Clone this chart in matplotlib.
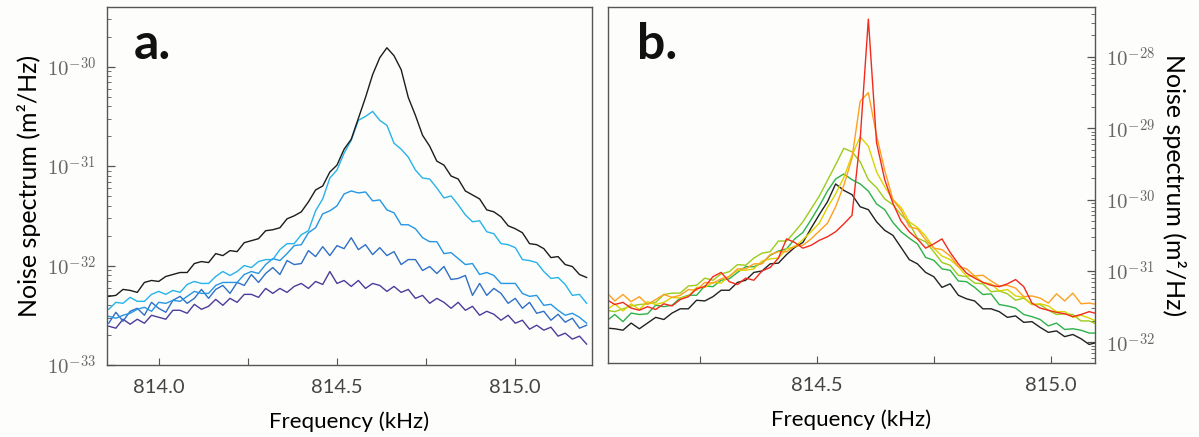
import numpy as np
import matplotlib
matplotlib.use("Agg")
import matplotlib.pyplot as plt
from matplotlib import ticker

plt.rcParams['mathtext.fontset'] = 'cm'
plt.rcParams['font.family'] = ['Lato', 'DejaVu Sans']

# ---- panel a: frequency grid (kHz) and log10 of noise spectrum (m^2/Hz)
freq_a = np.arange(813.86, 815.201, 0.02)

black_a = [-32.31, -32.30, -32.24, -32.25, -32.27, -32.17, -32.15, -32.16, -32.11, -32.09,
           -32.07, -32.07, -31.98, -31.96, -31.97, -31.88, -31.90, -31.85, -31.86, -31.77,
           -31.75, -31.73, -31.65, -31.64, -31.62, -31.53, -31.50, -31.46, -31.36, -31.24,
           -31.20, -31.06, -30.99, -30.83, -30.73, -30.52, -30.31, -30.08, -29.91, -29.81,
           -29.89, -30.03, -30.31, -30.49, -30.69, -30.80, -30.95, -30.99, -31.10, -31.13,
           -31.25, -31.29, -31.33, -31.44, -31.46, -31.51, -31.60, -31.63, -31.67, -31.78,
           -31.79, -31.83, -31.92, -31.91, -31.99, -32.01, -32.09, -32.12]

lightblue_a = [-32.44, -32.37, -32.38, -32.32, -32.36, -32.36, -32.29, -32.26, -32.29, -32.25,
               -32.27, -32.19, -32.16, -32.18, -32.18, -32.11, -32.06, -32.10, -32.06, -32.00,
               -32.02, -31.96, -31.94, -31.94, -31.84, -31.78, -31.78, -31.69, -31.65, -31.45,
               -31.33, -31.12, -31.04, -30.87, -30.74, -30.54, -30.50, -30.45, -30.54, -30.59,
               -30.77, -30.83, -30.91, -31.04, -31.12, -31.13, -31.22, -31.32, -31.30, -31.39,
               -31.49, -31.56, -31.55, -31.66, -31.68, -31.78, -31.79, -31.82, -31.94, -31.95,
               -31.97, -32.06, -32.13, -32.12, -32.19, -32.30, -32.29, -32.38]

midblue_a = [-32.51, -32.53, -32.50, -32.48, -32.44, -32.42, -32.46, -32.37, -32.38, -32.35,
             -32.36, -32.31, -32.26, -32.28, -32.28, -32.20, -32.17, -32.17, -32.17, -32.09,
             -32.06, -32.08, -31.99, -31.93, -31.95, -31.88, -31.80, -31.79, -31.67, -31.62,
             -31.48, -31.45, -31.40, -31.28, -31.25, -31.27, -31.26, -31.35, -31.34, -31.44,
             -31.47, -31.59, -31.59, -31.63, -31.72, -31.76, -31.76, -31.88, -31.87, -31.93,
             -31.99, -31.98, -32.09, -32.07, -32.10, -32.18, -32.18, -32.18, -32.28, -32.31,
             -32.30, -32.40, -32.39, -32.45, -32.50, -32.48, -32.52, -32.58]

darkblue_a = [-32.58, -32.47, -32.56, -32.46, -32.43, -32.50, -32.37, -32.43, -32.47, -32.35,
              -32.31, -32.38, -32.33, -32.24, -32.33, -32.24, -32.20, -32.28, -32.17, -32.20,
              -32.09, -32.17, -32.08, -32.02, -32.09, -31.95, -31.99, -31.98, -31.85, -31.91,
              -31.81, -31.90, -31.80, -31.83, -31.72, -31.84, -31.79, -31.89, -31.82, -31.90,
              -31.86, -31.99, -31.94, -31.94, -32.05, -32.01, -32.08, -32.01, -32.14, -32.13,
              -32.10, -32.30, -32.18, -32.30, -32.23, -32.28, -32.38, -32.33, -32.43, -32.37,
              -32.48, -32.46, -32.55, -32.49, -32.57, -32.53, -32.63, -32.60]

purple_a = [-32.61, -32.63, -32.54, -32.59, -32.54, -32.58, -32.50, -32.52, -32.54, -32.45,
            -32.45, -32.48, -32.39, -32.44, -32.41, -32.34, -32.40, -32.33, -32.37, -32.29,
            -32.29, -32.32, -32.23, -32.28, -32.23, -32.27, -32.21, -32.18, -32.23, -32.16,
            -32.19, -32.06, -32.18, -32.15, -32.21, -32.15, -32.23, -32.18, -32.20, -32.26,
            -32.21, -32.27, -32.24, -32.33, -32.30, -32.38, -32.33, -32.37, -32.43, -32.37,
            -32.45, -32.41, -32.50, -32.46, -32.49, -32.55, -32.50, -32.58, -32.55, -32.64,
            -32.60, -32.65, -32.62, -32.71, -32.68, -32.74, -32.71, -32.79]

# ---- panel b
freq_b = np.arange(814.05, 815.1001, 0.0175)

red_b = [-31.40, -31.47, -31.44, -31.52, -31.55, -31.50, -31.54, -31.46, -31.49, -31.40,
         -31.36, -31.25, -31.22, -31.08, -31.02, -31.15, -31.19, -31.10, -31.13, -31.00,
         -30.95, -30.82, -30.55, -30.60, -30.68, -30.64, -30.57, -30.52, -30.45, -30.34,
         -30.22, -29.15, -27.47, -29.20, -29.72, -30.05, -30.30, -30.45, -30.55, -30.68,
         -30.62, -30.55, -30.74, -30.90, -31.03, -31.10, -31.16, -31.20, -31.22, -31.18,
         -31.12, -31.22, -31.45, -31.52, -31.55, -31.58, -31.60, -31.64, -31.61, -31.57,
         -31.60]

orange_b = [-31.30, -31.42, -31.33, -31.43, -31.36, -31.47, -31.40, -31.33, -31.37, -31.34,
            -31.26, -31.27, -31.16, -31.17, -31.11, -31.08, -30.97, -30.97, -30.90, -30.90,
            -30.77, -30.73, -30.73, -30.65, -30.64, -30.55, -30.44, -30.33, -30.10, -29.80,
            -29.42, -28.62, -28.50, -29.10, -29.59, -30.00, -30.15, -30.38, -30.41, -30.56,
            -30.68, -30.70, -30.79, -30.94, -30.97, -31.07, -31.06, -31.14, -31.21, -31.20,
            -31.24, -31.36, -31.35, -31.38, -31.45, -31.32, -31.42, -31.31, -31.46, -31.45,
            -31.47]

yellow_b = [-31.55, -31.46, -31.56, -31.46, -31.54, -31.43, -31.47, -31.44, -31.37, -31.38,
            -31.35, -31.23, -31.23, -31.16, -31.17, -31.07, -30.99, -30.99, -30.97, -30.86,
            -30.83, -30.82, -30.69, -30.66, -30.56, -30.45, -30.33, -30.11, -29.92, -29.69,
            -29.38, -29.12, -29.25, -29.61, -29.82, -30.00, -30.11, -30.31, -30.39, -30.51,
            -30.68, -30.79, -30.84, -30.94, -31.07, -31.07, -31.16, -31.18, -31.28, -31.26,
            -31.35, -31.37, -31.47, -31.46, -31.49, -31.57, -31.57, -31.65, -31.62, -31.66,
            -31.71]

ygreen_b = [-31.55, -31.57, -31.53, -31.49, -31.47, -31.46, -31.44, -31.33, -31.31, -31.31,
            -31.21, -31.20, -31.10, -31.13, -31.04, -31.01, -30.91, -30.92, -30.82, -30.75,
            -30.73, -30.58, -30.58, -30.45, -30.31, -30.13, -29.95, -29.73, -29.51, -29.28,
            -29.33, -29.47, -29.72, -29.83, -29.99, -30.07, -30.21, -30.33, -30.54, -30.59,
            -30.73, -30.88, -30.92, -31.06, -31.08, -31.17, -31.18, -31.29, -31.28, -31.32,
            -31.41, -31.38, -31.47, -31.47, -31.55, -31.61, -31.60, -31.61, -31.70, -31.70,
            -31.75]

green_b = [-31.70, -31.61, -31.71, -31.59, -31.61, -31.60, -31.48, -31.50, -31.48, -31.38,
           -31.34, -31.34, -31.21, -31.22, -31.13, -31.11, -31.02, -30.94, -30.94, -30.89,
           -30.78, -30.72, -30.69, -30.55, -30.46, -30.28, -30.09, -29.88, -29.71, -29.64,
           -29.72, -29.78, -29.88, -30.06, -30.14, -30.32, -30.45, -30.54, -30.62, -30.81,
           -30.85, -30.97, -30.99, -31.14, -31.15, -31.23, -31.33, -31.32, -31.47, -31.49,
           -31.52, -31.61, -31.64, -31.68, -31.77, -31.73, -31.82, -31.81, -31.83, -31.87,
           -31.87]

black_b = [-31.80, -31.81, -31.83, -31.73, -31.81, -31.73, -31.65, -31.68, -31.59, -31.53,
           -31.53, -31.41, -31.42, -31.36, -31.27, -31.27, -31.16, -31.13, -31.02, -31.00,
           -30.90, -30.89, -30.77, -30.67, -30.60, -30.40, -30.21, -30.03, -29.78, -29.87,
           -29.93, -30.10, -30.14, -30.31, -30.43, -30.50, -30.67, -30.84, -30.90, -31.02,
           -31.08, -31.23, -31.18, -31.34, -31.39, -31.42, -31.53, -31.53, -31.57, -31.65,
           -31.63, -31.72, -31.71, -31.79, -31.86, -31.84, -31.92, -31.89, -31.95, -32.03,
           -32.00]

decades_a = [1e-33, 1e-32, 1e-31, 1e-30]
decades_b = [1e-32, 1e-31, 1e-30, 1e-29, 1e-28]

curves_a = [(purple_a, '#4b3c9b'), (darkblue_a, '#2f6fc6'), (midblue_a, '#2496e4'),
            (lightblue_a, '#26b3ea'), (black_a, '#1c1c1c')]
curves_b = [(black_b, '#222222'), (green_b, '#2db24a'), (ygreen_b, '#9ccc1a'),
            (yellow_b, '#dcd300'), (orange_b, '#ffa020'), (red_b, '#f22a1e')]

bg = '#fdfdfb'
edge = '#555555'
tick_grey = '#666666'
ylab = 'Noise spectrum (m²/Hz)'


def sci_label(v, pos):
    return r'$10^{%d}$' % int(round(np.log10(v)))


def style_axis(ax, ylim, decades, right=False):
    ax.set_yscale('log')
    ax.set_ylim(*ylim)
    ax.set_facecolor(bg)
    for s in ax.spines.values():
        s.set_color(edge)
        s.set_linewidth(1.0)
    ax.yaxis.set_major_locator(ticker.FixedLocator(decades))
    ax.yaxis.set_minor_locator(ticker.LogLocator(base=10, subs=np.arange(2, 10), numticks=20))
    ax.yaxis.set_major_formatter(ticker.FuncFormatter(sci_label))
    ax.yaxis.set_minor_formatter(ticker.NullFormatter())
    ax.xaxis.set_minor_locator(ticker.MultipleLocator(0.25))
    if right:
        ax.yaxis.tick_right()
        ax.yaxis.set_label_position('right')
        ax.tick_params(axis='y', which='both', left=False, right=True)
    else:
        ax.tick_params(axis='y', which='both', left=True, right=False)
    ax.tick_params(axis='both', which='both', direction='in', color=edge)
    ax.tick_params(axis='y', which='major', length=6, width=0.9, labelsize=15,
                   labelcolor=tick_grey, pad=8)
    ax.tick_params(axis='y', which='minor', length=3, width=0.6)
    ax.tick_params(axis='x', which='both', length=5, width=0.8, labelsize=14.5,
                   labelcolor='#444444', pad=10, top=False)


fig = plt.figure(figsize=(11.99, 4.37), dpi=100, facecolor=bg)
ax_a = fig.add_axes([0.0892, 0.1648, 0.4045, 0.8192])
ax_b = fig.add_axes([0.5071, 0.1693, 0.4062, 0.8146])

for vals, col in curves_a:
    ax_a.plot(freq_a, 10.0 ** np.array(vals), color=col, lw=1.0)
for vals, col in curves_b:
    ax_b.plot(freq_b, 10.0 ** np.array(vals), color=col, lw=1.0)

style_axis(ax_a, (1e-33, 10 ** -29.40), decades_a)
ax_a.set_xlim(813.855, 815.215)
ax_a.xaxis.set_major_locator(ticker.FixedLocator([814.0, 814.5, 815.0]))
ax_a.xaxis.set_major_formatter(ticker.FormatStrFormatter('%.1f'))
ax_a.set_xlabel('Frequency (kHz)', fontsize=16, labelpad=11)
ax_a.set_ylabel(ylab, fontsize=18, labelpad=4)
ax_a.text(0.055, 0.855, 'a.', transform=ax_a.transAxes, fontsize=36, fontweight='bold',
          color='#111111')

style_axis(ax_b, (10 ** -32.29, 10 ** -27.30), decades_b, right=True)
ax_b.set_xlim(814.053, 815.095)
ax_b.xaxis.set_major_locator(ticker.FixedLocator([814.5, 815.0]))
ax_b.xaxis.set_major_formatter(ticker.FormatStrFormatter('%.1f'))
ax_b.set_xlabel('Frequency (kHz)', fontsize=16, labelpad=11)
ax_b.set_ylabel(ylab, fontsize=18, rotation=270, labelpad=22)
ax_b.text(0.06, 0.855, 'b.', transform=ax_b.transAxes, fontsize=36, fontweight='bold',
          color='#111111')

fig.savefig('out.png', dpi=100, facecolor=bg)
